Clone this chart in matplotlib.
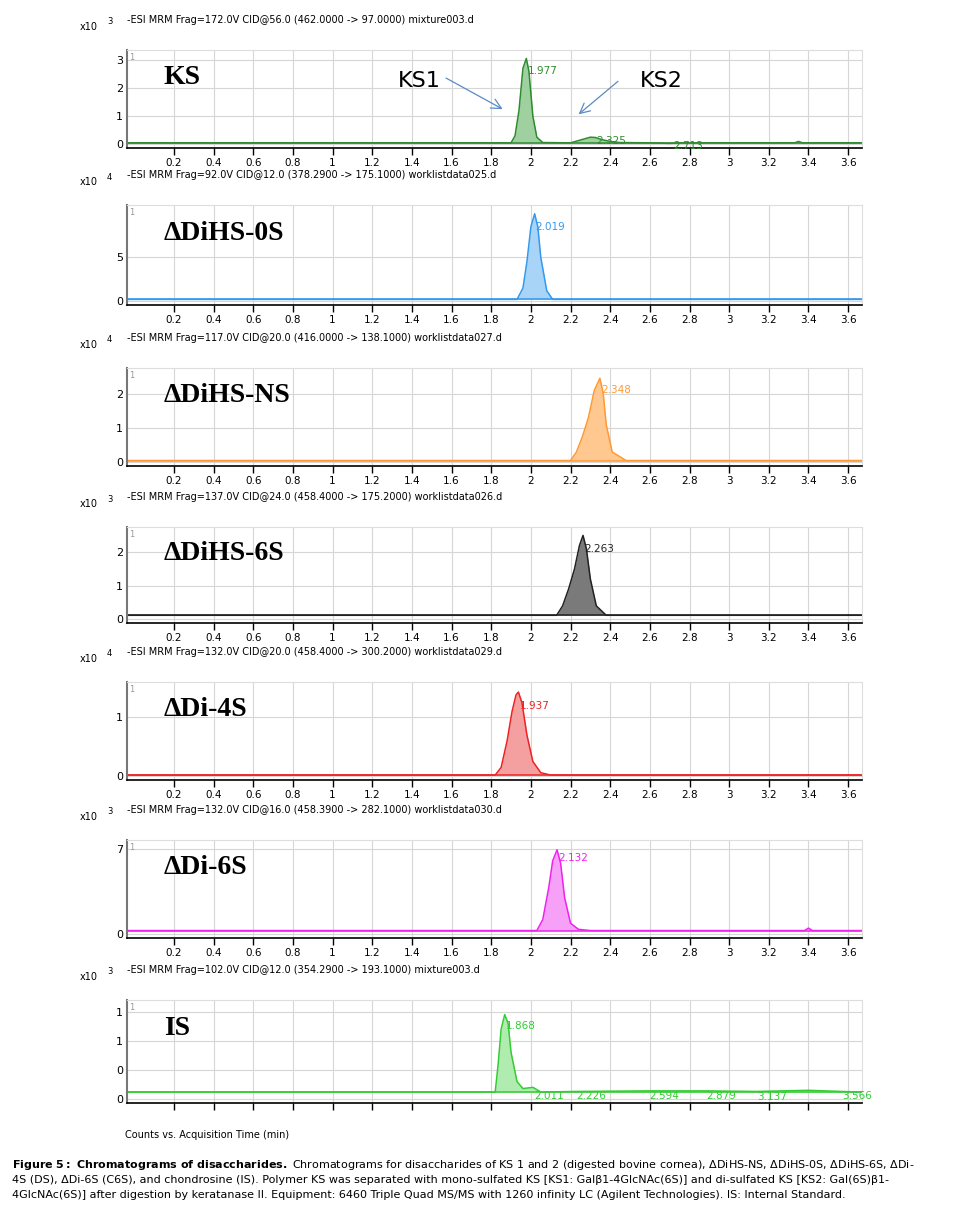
import matplotlib.pyplot as plt

W, H = 964, 1210

titles = ['-ESI MRM Frag=172.0V CID@56.0 (462.0000 -> 97.0000) mixture003.d',
          '-ESI MRM Frag=92.0V CID@12.0 (378.2900 -> 175.1000) worklistdata025.d',
          '-ESI MRM Frag=117.0V CID@20.0 (416.0000 -> 138.1000) worklistdata027.d',
          '-ESI MRM Frag=137.0V CID@24.0 (458.4000 -> 175.2000) worklistdata026.d',
          '-ESI MRM Frag=132.0V CID@20.0 (458.4000 -> 300.2000) worklistdata029.d',
          '-ESI MRM Frag=132.0V CID@16.0 (458.3900 -> 282.1000) worklistdata030.d',
          '-ESI MRM Frag=102.0V CID@12.0 (354.2900 -> 193.1000) mixture003.d']
names = ['KS', 'ΔDiHS-0S', 'ΔDiHS-NS', 'ΔDiHS-6S', 'ΔDi-4S', 'ΔDi-6S', 'IS']
exps = ['3', '4', '4', '3', '4', '3', '3']
lines = ['#2e8b2e', '#3399ee', '#ff9933', '#222222', '#ee2222', '#ee22ee', '#33cc33']
fills = ['#9fd09f', '#a8d4f8', '#ffc890', '#7a7a7a', '#f4a0a0', '#f7a0f7', '#b0ecb0']

# chromatogram traces (time, intensity)
t1 = [-0.04, 1.90, 1.92, 1.94, 1.96, 1.977, 1.99, 2.01, 2.03, 2.06, 2.20, 2.25, 2.30, 2.325, 2.36, 2.40, 2.45, 2.60, 2.70, 2.75, 3.33, 3.35, 3.37, 3.68]
y1 = [0.05, 0.05, 0.30, 1.20, 2.70, 3.05, 2.60, 1.00, 0.25, 0.06, 0.05, 0.15, 0.25, 0.24, 0.16, 0.10, 0.06, 0.05, 0.03, 0.05, 0.05, 0.10, 0.05, 0.05]
t2 = [-0.04, 1.93, 1.96, 1.98, 2.00, 2.019, 2.035, 2.05, 2.08, 2.11, 3.68]
y2 = [0.02, 0.02, 0.15, 0.45, 0.85, 1.00, 0.85, 0.50, 0.12, 0.02, 0.02]
t3 = [-0.04, 2.20, 2.23, 2.26, 2.29, 2.32, 2.348, 2.365, 2.38, 2.41, 2.48, 3.68]
y3 = [0.05, 0.05, 0.30, 0.75, 1.30, 2.10, 2.45, 2.00, 1.10, 0.30, 0.05, 0.05]
t4 = [-0.04, 2.13, 2.16, 2.19, 2.22, 2.245, 2.263, 2.28, 2.30, 2.33, 2.38, 3.68]
y4 = [0.12, 0.12, 0.40, 0.90, 1.50, 2.20, 2.50, 2.10, 1.20, 0.40, 0.12, 0.12]
t5 = [-0.04, 1.82, 1.85, 1.88, 1.905, 1.925, 1.937, 1.955, 1.98, 2.01, 2.05, 2.10, 3.68]
y5 = [0.02, 0.02, 0.15, 0.60, 1.10, 1.38, 1.43, 1.25, 0.70, 0.25, 0.06, 0.02, 0.02]
t6 = [-0.04, 2.03, 2.06, 2.09, 2.11, 2.132, 2.15, 2.17, 2.20, 2.24, 2.30, 3.38, 3.40, 3.42, 3.68]
y6 = [0.30, 0.30, 1.20, 3.80, 6.00, 6.90, 5.80, 3.00, 0.90, 0.40, 0.30, 0.30, 0.50, 0.30, 0.30]
t7 = [-0.04, 1.82, 1.835, 1.85, 1.868, 1.885, 1.90, 1.93, 1.96, 2.011, 2.05, 2.226, 2.594, 2.879, 3.137, 3.40, 3.566, 3.68]
y7 = [0.12, 0.12, 0.60, 1.20, 1.45, 1.30, 0.80, 0.30, 0.18, 0.20, 0.12, 0.13, 0.14, 0.14, 0.13, 0.15, 0.13, 0.12]
traces = [(t1, y1), (t2, y2), (t3, y3), (t4, y4), (t5, y5), (t6, y6), (t7, y7)]

peak_labels = [[(1.977, 2.6, '1.977'), (2.325, 0.1, '2.325'), (2.713, -0.05, '2.713')],
               [(2.019, 0.85, '2.019')],
               [(2.348, 2.1, '2.348')],
               [(2.263, 2.1, '2.263')],
               [(1.937, 1.2, '1.937')],
               [(2.132, 6.2, '2.132')],
               [(1.868, 1.25, '1.868'), (2.011, 0.05, '2.011'), (2.226, 0.05, '2.226'),
                (2.594, 0.05, '2.594'), (2.879, 0.05, '2.879'), (3.137, 0.03, '3.137'),
                (3.566, 0.05, '3.566')]]

ytop = [3.35, 1.1, 2.75, 2.75, 1.6, 7.7, 1.7]
yticks = [[0, 1, 2, 3], [0, 0.5], [0, 1, 2], [0, 1, 2], [0, 1], [0, 7], [0, 0.5, 1.0, 1.5]]
ytlabels = [['0', '1', '2', '3'], ['0', '5'], ['0', '1', '2'], ['0', '1', '2'], ['0', '1'],
            ['0', '7'], ['0', '0', '1', '1']]
xticks = [0.2, 0.4, 0.6, 0.8, 1, 1.2, 1.4, 1.6, 1.8, 2, 2.2, 2.4, 2.6, 2.8, 3, 3.2, 3.4, 3.6]
xtlabels = ['0.2', '0.4', '0.6', '0.8', '1', '1.2', '1.4', '1.6', '1.8', '2', '2.2', '2.4',
            '2.6', '2.8', '3', '3.2', '3.4', '3.6']

panels_px = [(50, 148), (205, 305), (368, 466), (527, 623), (682, 780), (840, 938), (1000, 1103)]

fig = plt.figure(figsize=(W / 100, H / 100), dpi=100)
fig.patch.set_facecolor('white')
left, right = 127, 862

for i, (top, bot) in enumerate(panels_px):
    ax = fig.add_axes([left / W, 1 - bot / H, (right - left) / W, (bot - top) / H])
    t, y = traces[i]
    base = min(y)
    ax.fill_between(t, base, y, where=[v > base * 1.5 + 0.02 or True for v in y], color=fills[i], lw=0)
    ax.plot(t, y, color=lines[i], lw=1.1)
    ax.axhline(base, color=lines[i], lw=1.1)
    for (xx, yy, s) in peak_labels[i]:
        ax.text(xx + 0.005, yy, s, color=lines[i], fontsize=7.5, va='center')
    ax.set_xlim(-0.037, 3.67)
    ax.set_ylim(-0.04 * ytop[i], ytop[i])
    ax.set_xticks(xticks)
    ax.set_xticklabels(xtlabels if i < 6 else [''] * len(xticks), fontsize=7.5)
    ax.set_yticks(yticks[i])
    ax.set_yticklabels(ytlabels[i], fontsize=8)
    ax.grid(True, color='#d6d6d6', lw=0.8)
    ax.set_axisbelow(True)
    ax.tick_params(axis='x', length=5, width=1, pad=2)
    ax.tick_params(axis='y', length=0, pad=3)
    ax.spines['left'].set_color('#777777')
    ax.spines['left'].set_linewidth(1.5)
    ax.spines['bottom'].set_linewidth(1.2)
    for s in ['top', 'right']:
        ax.spines[s].set_color('#dddddd')
    ax.text(0.003, 0.97, '1', transform=ax.transAxes, color='#999999', fontsize=6, va='top')
    ax.text(0.05, 0.72, names[i], transform=ax.transAxes, fontsize=20, fontweight='bold',
            family='Liberation Serif', va='center')
    fig.text(80 / W, 1 - (top - 23) / H, 'x10', fontsize=7, va='center')
    fig.text(107 / W, 1 - (top - 28) / H, exps[i], fontsize=6, va='center')
    fig.text(127 / W, 1 - (top - 30) / H, titles[i], fontsize=7, va='center')
    if i == 0:
        ax.text(1.33, 2.25, 'KS1', fontsize=16, va='center')
        ax.text(2.55, 2.25, 'KS2', fontsize=16, va='center')
        ax.annotate('', xy=(1.87, 1.2), xytext=(1.56, 2.4),
                    arrowprops=dict(arrowstyle='->', color='#5b8ac4', lw=0.9, mutation_scale=18))
        ax.annotate('', xy=(2.23, 1.0), xytext=(2.45, 2.3),
                    arrowprops=dict(arrowstyle='->', color='#5b8ac4', lw=0.9, mutation_scale=18))

fig.text(125 / W, 1 - 1135 / H, 'Counts vs. Acquisition Time (min)', fontsize=7, va='center')

fig.text(12 / W, 1 - 1165 / H,
         r'$\bf{Figure\ 5{:}\ Chromatograms\ of\ disaccharides.}$' +
         ' Chromatograms for disaccharides of KS 1 and 2 (digested bovine cornea), ΔDiHS-NS, ΔDiHS-0S, ΔDiHS-6S, ΔDi-',
         fontsize=8, va='center')
fig.text(12 / W, 1 - 1180 / H,
         '4S (DS), ΔDi-6S (C6S), and chondrosine (IS). Polymer KS was separated with mono-sulfated KS [KS1: Galβ1-4GlcNAc(6S)] and di-sulfated KS [KS2: Gal(6S)β1-',
         fontsize=8, va='center')
fig.text(12 / W, 1 - 1195 / H,
         '4GlcNAc(6S)] after digestion by keratanase II. Equipment: 6460 Triple Quad MS/MS with 1260 infinity LC (Agilent Technologies). IS: Internal Standard.',
         fontsize=8, va='center')

fig.savefig('out.png', dpi=100)
